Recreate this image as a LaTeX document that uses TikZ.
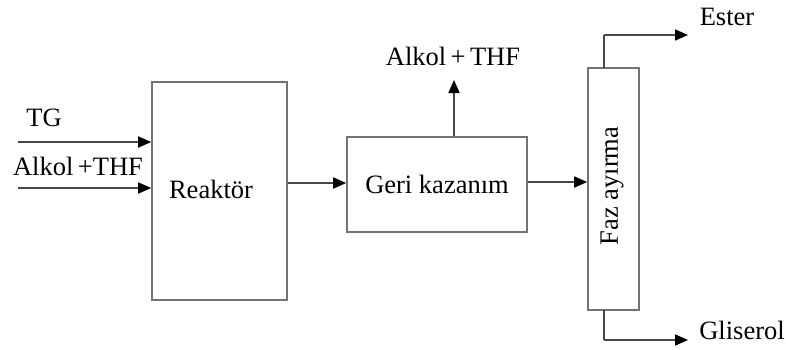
\documentclass[tikz,border=0pt]{standalone}
\usepackage{fontspec}
\setmainfont{Liberation Serif}
\usetikzlibrary{arrows.meta}
\begin{document}
\begin{tikzpicture}[x=1pt,y=-1pt,
  unitbox/.style={draw=black!55,line width=1.6pt,fill=white,inner sep=0pt},
  flow/.style={draw=black!72,line width=1.7pt,-{Triangle[length=13pt,width=11pt,color=black]}},
  pipe/.style={draw=black!72,line width=1.7pt},
  txt/.style={font=\fontsize{26.5}{30}\selectfont,inner sep=0pt}]
  % page frame
  \useasboundingbox (0,0) rectangle (786,349);
  \fill[white] (0,0) rectangle (786,349);

  % process units
  \node[unitbox,minimum width=135pt,minimum height=218pt] (reak) at (219.5,191) {};
  \node[txt] (reaklbl) at (211,189) {Reaktör};
  \node[unitbox,minimum width=180pt,minimum height=95pt,txt] (geri) at (437,184.5) {Geri kazanım};
  \node[unitbox,minimum width=51pt,minimum height=242pt] (faz) at (613.5,189) {};
  \node[txt,rotate=90] (fazlbl) at (612,186) {Faz ayırma};

  % feed streams
  \coordinate (tgin) at (18,142);
  \coordinate (alin) at (18,188);
  \node[txt] (tglbl) at (44,118) {TG};
  \node[txt] (allbl) at (78,166) {Alkol\,+THF};
  \draw[flow] (tgin) -- (tgin -| reak.west);
  \draw[flow] (alin) -- (alin -| reak.west);

  % reactor -> recovery -> phase separation
  \draw[flow] (reak.east |- 0,183) -- (geri.west |- 0,183);
  \draw[flow] (geri.east |- 0,182) -- (faz.west |- 0,182);

  % recycled alcohol + THF
  \coordinate (recout) at (454,80);
  \draw[flow] (recout |- geri.north) -- (recout);
  \node[txt] (reclbl) at (453,56) {Alkol\,+\,THF};

  % products
  \coordinate (estout) at (688,35);
  \coordinate (glyout) at (688,340);
  \draw[pipe] (604,68) -- (604,35);
  \draw[flow] (604,35) -- (estout);
  \draw[pipe] (604,310) -- (604,340);
  \draw[flow] (604,340) -- (glyout);
  \node[txt] (estlbl) at (727,17) {Ester};
  \node[txt] (glylbl) at (742,330) {Gliserol};
\end{tikzpicture}
\end{document}
